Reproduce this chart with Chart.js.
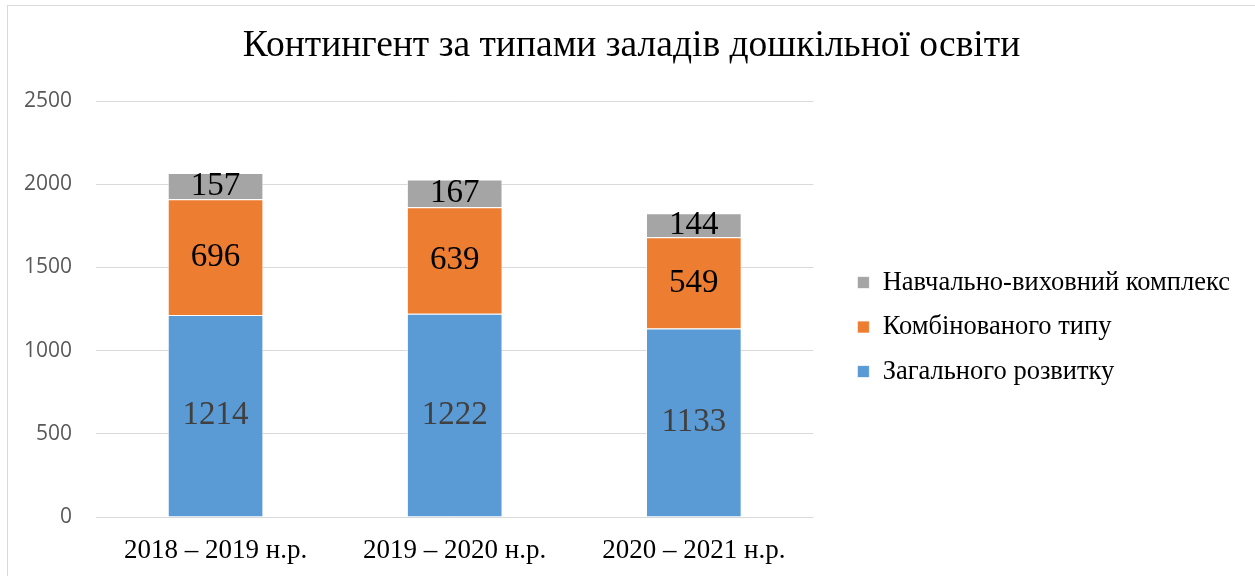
<!DOCTYPE html>
<html>
<head>
<meta charset="utf-8">
<script src="https://cdn.jsdelivr.net/npm/chart.js@4"></script>
<style>
  body { margin: 0; background: #fff; }
  #wrap { position: relative; width: 1255px; height: 576px; overflow: hidden; }
  #frame { position: absolute; left: 7px; top: 5px; width: 1300px; height: 600px;
           border-left: 1px solid #d9d9d9; border-top: 1px solid #d9d9d9; pointer-events: none; }
  canvas { display: block; }
</style>
</head>
<body>
<div id="wrap">
  <canvas id="kontChart" width="1255" height="576"></canvas>
  <div id="frame"></div>
</div>
<script>
// роки
const years = ['2018 – 2019 н.р.', '2019 – 2020 н.р.', '2020 – 2021 н.р.'];

// ряди
const zagalnogo = [1214, 1222, 1133];
const kombinovanogo = [696, 639, 549];
const nvk = [157, 167, 144];

const yTicks = [0, 500, 1000, 1500, 2000, 2500];

const serif = '"Liberation Serif", "Times New Roman", serif';

// підписи значень всередині стовпців
const barLabels = {
    id: 'barLabels',
    afterDatasetsDraw(chart) {
        const ctx = chart.ctx;
        ctx.save();
        ctx.font = '33px ' + serif;
        ctx.textAlign = 'center';
        ctx.textBaseline = 'middle';
        chart.data.datasets.forEach((ds, i) => {
            const meta = chart.getDatasetMeta(i);
            meta.data.forEach((bar, j) => {
                const p = bar.getProps(['x', 'y', 'base'], true);
                ctx.fillStyle = ds.labelColor;
                ctx.fillText(ds.data[j], p.x, (p.y + p.base) / 2);
            });
        });
        ctx.restore();
    }
};

const ctx = document.getElementById('kontChart').getContext('2d');
new Chart(ctx, {
    type: 'bar',
    data: {
        labels: years,
        datasets: [
            { label: 'Загального розвитку', data: zagalnogo, backgroundColor: '#5b9bd5', labelColor: '#404040' },
            { label: 'Комбінованого типу', data: kombinovanogo, backgroundColor: '#ed7d31', labelColor: '#000' },
            { label: 'Навчально-виховний комплекс', data: nvk, backgroundColor: '#a5a5a5', labelColor: '#000' }
        ]
    },
    options: {
        responsive: false,
        animation: false,
        layout: { padding: { left: 23, right: 15, top: 0, bottom: 0 } },
        datasets: {
            bar: {
                categoryPercentage: 1,
                barPercentage: 0.4,
                borderColor: 'rgba(255,255,255,0.7)',
                borderWidth: 1
            }
        },
        scales: {
            x: {
                stacked: true,
                border: { display: false },
                grid: { color: 'transparent', drawOnChartArea: false, drawTicks: true, tickLength: 9.5 },
                ticks: {
                    color: '#000',
                    padding: 8.5,
                    font: { family: serif, size: 27 }
                }
            },
            y: {
                stacked: true,
                min: 0,
                max: 2500,
                border: { display: false },
                grid: { color: '#d9d9d9', drawTicks: false },
                afterBuildTicks: scale => { scale.ticks = yTicks.map(v => ({ value: v })); },
                afterFit: scale => { scale.width = 73; },
                ticks: {
                    color: '#595959',
                    padding: 24,
                    callback: v => String(v),
                    font: { family: '"Open Sans", sans-serif', size: 21 }
                }
            },
            y2: {
                position: 'right',
                display: true,
                border: { display: false },
                grid: { display: false, drawTicks: false },
                ticks: { display: false },
                afterFit: scale => { scale.width = 26; }
            }
        },
        plugins: {
            title: {
                display: true,
                text: 'Контингент за типами заладів дошкільної освіти',
                color: '#000',
                font: { family: serif, size: 37.5, weight: 'normal' },
                padding: { top: 23.5, bottom: 32.5 }
            },
            legend: {
                display: true,
                position: 'right',
                fullSize: false,
                reverse: true,
                maxWidth: 460,
                title: { display: true, text: '', font: { size: 10 }, padding: { top: 0, bottom: 24 } },
                labels: {
                    color: '#000',
                    boxWidth: 12,
                    boxHeight: 12,
                    padding: 18,
                    font: { family: serif, size: 26.5 }
                }
            },
            tooltip: { enabled: false }
        }
    },
    plugins: [barLabels]
});
</script>
</body>
</html>
